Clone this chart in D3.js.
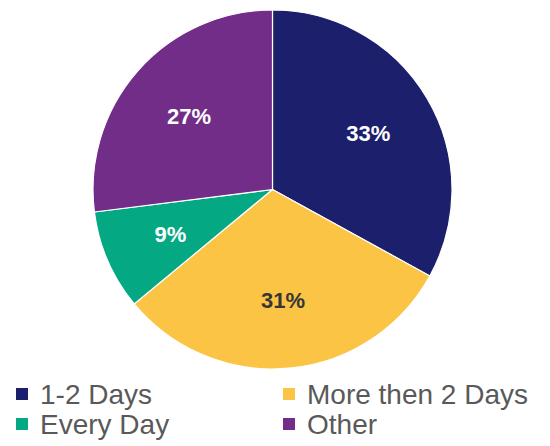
<!DOCTYPE html>
<html>
<head>
<meta charset="utf-8">
<script src="https://cdn.jsdelivr.net/npm/d3@7"></script>
<style>
  html, body { margin: 0; padding: 0; background: #ffffff; }
  svg { display: block; }
</style>
</head>
<body>
<svg id="chart" width="550" height="446"></svg>
<script>
// Share of respondents by frequency
const categories = ["1-2 Days", "More then 2 Days", "Every Day", "Other"];
const values = [33, 31, 9, 27];
const colors = ["#1c1f6c", "#fbc445", "#04a983", "#712d88"];
const labelColors = ["#ffffff", "#363636", "#ffffff", "#ffffff"];

const W = 550, H = 446;
const cx = 272.5, cy = 189.5, radius = 179.5;

const svg = d3.select("#chart");

const data = categories.map((c, i) => ({ category: c, value: values[i], i }));

const pie = d3.pie().sort(null).value(d => d.value);
const arcs = pie(data);

const arc = d3.arc().innerRadius(0).outerRadius(radius);
const labelArc = d3.arc().innerRadius(radius * 0.62).outerRadius(radius * 0.62);

const g = svg.append("g").attr("transform", `translate(${cx},${cy})`);

g.selectAll("path.slice")
  .data(arcs)
  .join("path")
  .attr("class", "slice")
  .attr("d", arc)
  .attr("fill", d => colors[d.data.i])
  .attr("stroke", "#ffffff")
  .attr("stroke-width", 1.2)
  .attr("stroke-linejoin", "round");

g.selectAll("text.pct")
  .data(arcs)
  .join("text")
  .attr("class", "pct")
  .attr("transform", d => `translate(${labelArc.centroid(d)})`)
  .attr("text-anchor", "middle")
  .attr("dy", "0.36em")
  .attr("font-family", "'Liberation Sans', Arial, sans-serif")
  .attr("font-weight", "bold")
  .attr("font-size", 22)
  .attr("fill", d => labelColors[d.data.i])
  .text(d => d.data.value + "%");

// Legend: two columns, two rows
const legendCols = [16, 283];
const legendRows = [404, 434];
const legend = svg.append("g").attr("class", "legend");

const items = legend.selectAll("g.item")
  .data(data)
  .join("g")
  .attr("class", "item")
  .attr("transform", d => `translate(${legendCols[d.i % 2]},${legendRows[Math.floor(d.i / 2)]})`);

items.append("rect")
  .attr("x", 0)
  .attr("y", -16)
  .attr("width", 12)
  .attr("height", 12)
  .attr("fill", d => colors[d.i]);

items.append("text")
  .attr("x", 24)
  .attr("y", 0)
  .attr("font-family", "'Liberation Sans', Arial, sans-serif")
  .attr("font-size", 28)
  .attr("fill", "#595959")
  .text(d => d.category);
</script>
</body>
</html>
